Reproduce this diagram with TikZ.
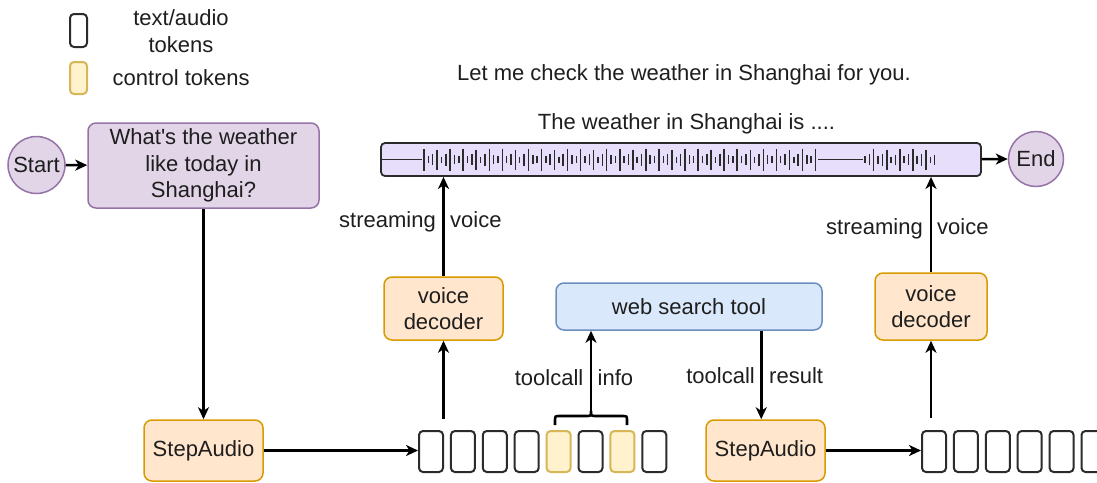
\documentclass[tikz,border=0pt]{standalone}
\usepackage{fontspec}
\setmainfont{Liberation Sans}
\usetikzlibrary{arrows.meta,calc}
\definecolor{txt}{HTML}{1E1E1E}
\definecolor{pfill}{HTML}{E1D5E7}
\definecolor{pdraw}{HTML}{9673A6}
\definecolor{ofill}{HTML}{FFE6CC}
\definecolor{odraw}{HTML}{D79B00}
\definecolor{bfill}{HTML}{DAE8FC}
\definecolor{bdraw}{HTML}{6C8EBF}
\definecolor{yfill}{HTML}{FFF2CC}
\definecolor{ydraw}{HTML}{D6B656}
\definecolor{barfill}{HTML}{E6DEFA}
\definecolor{dark}{HTML}{2B2B2B}
\begin{document}
\begin{tikzpicture}[x=1pt,y=-1pt,
  font=\fontsize{22}{26.4}\selectfont,
  every node/.style={text=txt},
  box/.style={draw, rounded corners=8pt, line width=1.5pt, align=center, inner sep=0pt},
  purplebox/.style={box, fill=pfill, draw=pdraw},
  orangebox/.style={box, fill=ofill, draw=odraw},
  bluebox/.style={box, fill=bfill, draw=bdraw},
  circ/.style={circle, fill=pfill, draw=pdraw, line width=1.5pt, inner sep=0pt},
  tok/.style={draw=dark, line width=2pt, rounded corners=4pt, minimum width=24pt, minimum height=41pt, inner sep=0pt},
  ctok/.style={tok, fill=yfill, draw=ydraw},
  arr/.style={line width=2.6pt, -{Stealth[length=12pt,width=11pt,inset=3.5pt]}},
  lbl/.style={inner sep=0pt}
]
\useasboundingbox (0,0) rectangle (1097,482);

% legend
\node[tok, minimum width=17pt, minimum height=33pt] (lt) at (78.5,30.5) {};
\node[ctok, minimum width=17pt, minimum height=32pt] (lc) at (78.5,78) {};
\node[lbl, align=center] (ltt) at (181,31) {text/audio\\tokens};
\node[lbl, anchor=base west] (lct) at (112.5,85) {control tokens};

% start / question
\node[circ, minimum size=57pt] (start) at (36.5,165) {Start};
\node[purplebox, minimum width=231pt, minimum height=85pt] (q) at (203.5,165.5)
  {What\textquotesingle s the weather\\like today in\\Shanghai?};

% top texts
\node[lbl, anchor=base] (say1) at (684,80) {Let me check the weather in Shanghai for you.};
\node[lbl, anchor=base] (say2) at (686.5,129.5) {The weather in Shanghai is ....};

% waveform bar
\node[draw=dark, fill=barfill, rounded corners=4pt, line width=1.8pt,
  minimum width=600pt, minimum height=33pt, inner sep=0pt] (bar) at (681,159.5) {};
\begin{scope}[line width=1.5pt, draw=dark]
  \draw (382,159.5) -- (422,159.5);
  \foreach \i in {0,...,90} {
    \pgfmathsetmacro\xx{424+4.35*\i}
    \pgfmathsetmacro\hh{{11,3.5,5.5,10,3,6,11,4.5,3.5}[mod(\i,9)]}
    \draw (\xx,159.5-\hh) -- (\xx,159.5+\hh);
  }
  \draw (818,159.5) -- (863,159.5);
  \foreach \i in {0,...,16} {
    \pgfmathsetmacro\xx{865+4.35*\i}
    \pgfmathsetmacro\hh{{3.5,5.5,11,4,6,10,3,5,11}[mod(\i,9)]}
    \draw (\xx,159.5-\hh) -- (\xx,159.5+\hh);
  }
\end{scope}
\node[circ, minimum size=55pt] (end) at (1036,159) {End};
\draw[arr] (bar) -- (end);
\draw[arr] (start) -- (q);

% left StepAudio and tokens
\node[orangebox, minimum width=119pt, minimum height=61pt] (sa1) at (203.5,450.5) {StepAudio};
\draw[arr] (q) -- (sa1);
\foreach \i/\s in {1/tok,2/tok,3/tok,4/tok,5/ctok,6/tok,7/ctok,8/tok} {
  \node[\s] (t\i) at ({431+31.9*(\i-1)},451.5) {};
}
\draw[arr] (sa1.east) -- (sa1.east -| t1.west);

% voice decoder 1
\node[orangebox, minimum width=119pt, minimum height=63pt] (vd1) at (443.5,308.5) {voice\\decoder};
\coordinate (c1) at (443.5,419);
\draw[arr] (c1) -- (vd1);
\draw[arr] (vd1) -- (vd1.north |- bar.south);
\node[lbl, anchor=base east] (s1a) at (436,227) {streaming};
\node[lbl, anchor=base west] (s1b) at (450,227) {voice};

% web search tool
\node[bluebox, minimum width=266pt, minimum height=47pt] (web) at (689,306.5) {web search tool};
\draw[line width=2.6pt] (555,425) -- (555,421) .. controls (555,416) .. (560,416) -- (586,416)
  .. controls (591,416) .. (591,411) .. controls (591,416) .. (596,416) -- (622,416)
  .. controls (627,416) .. (627,421) -- (627,425);
\coordinate (tip) at (591,411);
\draw[arr] (tip) -- (tip |- web.south);
\node[lbl, anchor=base east] (ti1) at (583.5,385) {toolcall};
\node[lbl, anchor=base west] (ti2) at (597.5,385) {info};

% right StepAudio
\node[orangebox, minimum width=119pt, minimum height=61pt] (sa2) at (765.5,450.5) {StepAudio};
\coordinate (r0) at ($(web.south west)+(206,0)$);
\draw[arr] (r0) -- (r0 |- sa2.north);
\node[lbl, anchor=base east] (tr1) at (755,383) {toolcall};
\node[lbl, anchor=base west] (tr2) at (769,383) {result};
\foreach \i in {1,...,6} {
  \node[tok] (u\i) at ({934+31.9*(\i-1)},451.5) {};
}
\draw[arr] (sa2.east) -- (sa2.east -| u1.west);

% voice decoder 2
\node[orangebox, minimum width=112pt, minimum height=67pt] (vd2) at (931,306.5) {voice\\decoder};
\coordinate (c2) at (931,418);
\draw[arr] (c2) -- (vd2);
\draw[arr] (vd2) -- (vd2.north |- bar.south);
\node[lbl, anchor=base east] (s2a) at (923,234) {streaming};
\node[lbl, anchor=base west] (s2b) at (937,234) {voice};
\end{tikzpicture}
\end{document}
